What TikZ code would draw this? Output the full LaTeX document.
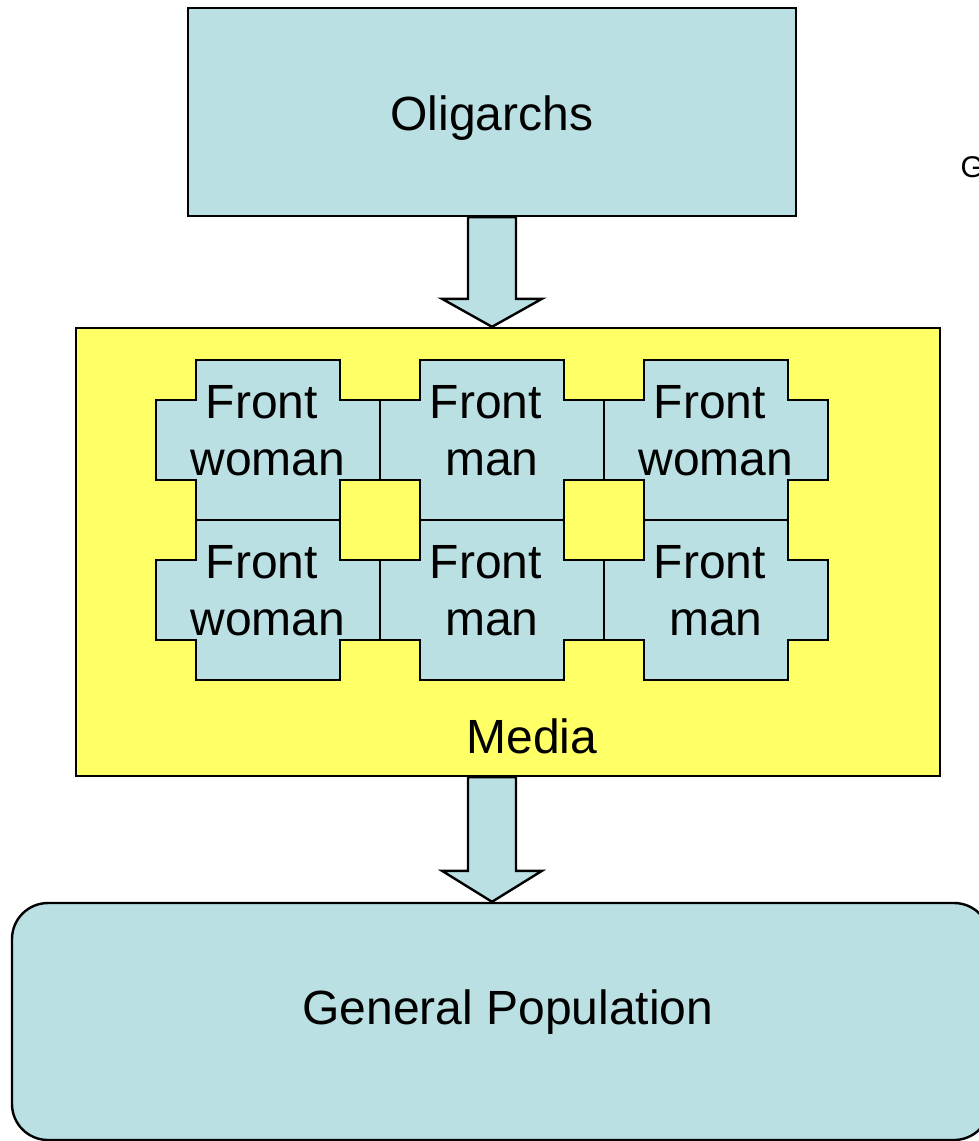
\documentclass[tikz,border=0pt]{standalone}
\usepackage{fontspec}
\setmainfont{Liberation Sans}
\usetikzlibrary{calc}
\definecolor{pblue}{HTML}{BBE0E3}
\definecolor{pyellow}{HTML}{FFFF66}
\begin{document}
\begin{tikzpicture}[x=1pt,y=-1pt, line width=2.4pt,
  box/.style={draw, fill=pblue, inner sep=0pt, line width=2.4pt},
  lbl/.style={font=\fontsize{48}{57}\selectfont, inner sep=0pt},
  bigarrow/.style={draw, fill=pblue, line join=miter},
  puzzle/.pic={\path[draw, fill=pblue, line join=miter] (0,0) -- (144,0) -- (144,40) -- (184,40) -- (184,120) -- (144,120) -- (144,160) -- (0,160) -- (0,120) -- (-40,120) -- (-40,40) -- (0,40) -- cycle;}
]
\useasboundingbox (0,0) rectangle (979,1141);
\clip (0,0) rectangle (979,1141);
\fill[white] (0,0) rectangle (979,1141);

% boxes
\node[box, minimum width=608pt, minimum height=208pt] (olig) at (492,112) {};
\node[lbl, anchor=base] (toli) at (492,130) {Oligarchs};
\node[box, fill=pyellow, minimum width=864pt, minimum height=448pt] (media) at (508,552) {};
\node[box, rounded corners=36pt, minimum width=978pt, minimum height=237pt] (pop) at (501,1021.5) {};
\node[lbl, anchor=base] (tpop) at (508,1024) {General Population};

% puzzle pieces
\pic (p1) at (196,360) {puzzle};
\pic (p2) at (420,360) {puzzle};
\pic (p3) at (644,360) {puzzle};
\pic (p4) at (196,520) {puzzle};
\pic (p5) at (420,520) {puzzle};
\pic (p6) at (644,520) {puzzle};
\node[lbl, align=center, anchor=north] (f1) at (268,384) {Front\kern12pt\\woman};
\node[lbl, align=center, anchor=north] (f2) at (492,384) {Front\kern12pt\\man};
\node[lbl, align=center, anchor=north] (f3) at (716,384) {Front\kern12pt\\woman};
\node[lbl, align=center, anchor=north] (f4) at (268,544) {Front\kern12pt\\woman};
\node[lbl, align=center, anchor=north] (f5) at (492,544) {Front\kern12pt\\man};
\node[lbl, align=center, anchor=north] (f6) at (716,544) {Front\kern12pt\\man};
\node[lbl, anchor=base] (tmed) at (532,753) {Media};

% block arrows
\draw[bigarrow] ($(olig.south)+(-24,0)$) -- ($(olig.south)+(24,0)$)
  -- ($(olig.south |- media.north)+(24,-28)$) -- ($(olig.south |- media.north)+(50,-28)$)
  -- (olig.south |- media.north)
  -- ($(olig.south |- media.north)+(-50,-28)$) -- ($(olig.south |- media.north)+(-24,-28)$) -- cycle;
\draw[bigarrow] ($(olig.south |- media.south)+(-24,0)$) -- ($(olig.south |- media.south)+(24,0)$)
  -- ($(olig.south |- pop.north)+(24,-31)$) -- ($(olig.south |- pop.north)+(50,-31)$)
  -- (olig.south |- pop.north)
  -- ($(olig.south |- pop.north)+(-50,-31)$) -- ($(olig.south |- pop.north)+(-24,-31)$) -- cycle;

% stray label
\node[font=\fontsize{30}{36}\selectfont, inner sep=0pt, anchor=base west] (g) at (959.5,177) {G};
\end{tikzpicture}
\end{document}
